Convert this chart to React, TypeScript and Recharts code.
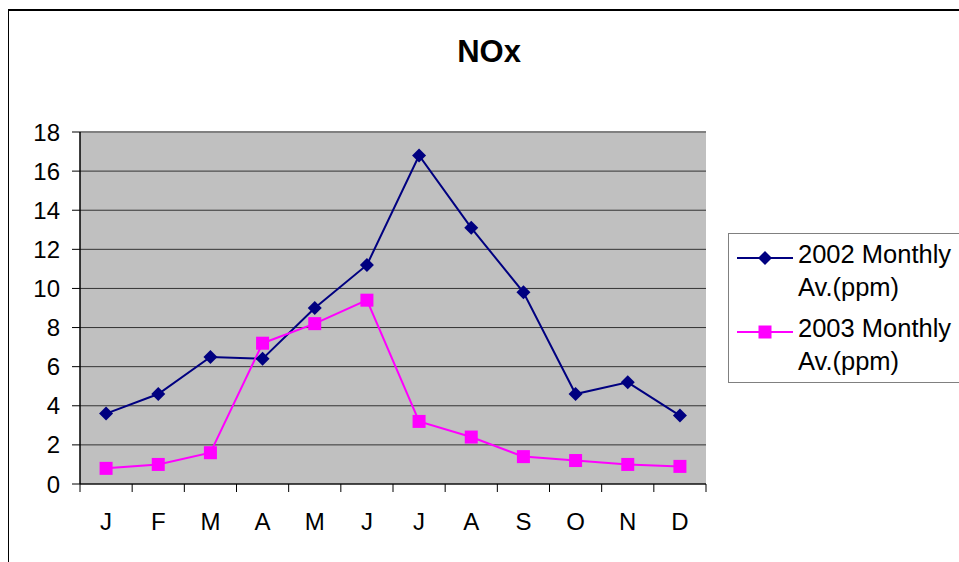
import { LineChart, Line, XAxis, YAxis, CartesianGrid, ReferenceLine, Legend } from 'recharts';

const months = ['J', 'F', 'M', 'A', 'M', 'J', 'J', 'A', 'S', 'O', 'N', 'D'];
const avg2002 = [3.6, 4.6, 6.5, 6.4, 9.0, 11.2, 16.8, 13.1, 9.8, 4.6, 5.2, 3.5];
const avg2003 = [0.8, 1.0, 1.6, 7.2, 8.2, 9.4, 3.2, 2.4, 1.4, 1.2, 1.0, 0.9];
const yTicks = [0, 2, 4, 6, 8, 10, 12, 14, 16, 18];

const series = [
  { key: 'y2002', name: '2002 Monthly Av.(ppm)', color: '#000080', shape: 'diamond' },
  { key: 'y2003', name: '2003 Monthly Av.(ppm)', color: '#FF00FF', shape: 'square' },
];

const data = months.map((m, i) => ({ month: m, y2002: avg2002[i], y2003: avg2003[i] }));

const W = 951;
const H = 554;
const PLOT_LEFT = 72;
const PLOT_RIGHT = 698;
const PLOT_TOP = 124;
const PLOT_BOTTOM = 476;
const BAND = (PLOT_RIGHT - PLOT_LEFT) / months.length;
const FONT = '"Liberation Sans", Arial, sans-serif';

const Diamond = ({ cx, cy, fill, size = 7 }: any) => (
  <polygon
    points={`${cx},${cy - size} ${cx + size},${cy} ${cx},${cy + size} ${cx - size},${cy}`}
    fill={fill}
  />
);

const Square = ({ cx, cy, fill, size = 13 }: any) => (
  <rect x={cx - size / 2} y={cy - size / 2} width={size} height={size} fill={fill} />
);

const Marker = ({ shape, ...rest }: any) =>
  shape === 'diamond' ? <Diamond {...rest} /> : <Square {...rest} />;

// category ticks sit between months, labels in the middle
const MonthTick = ({ x, y, payload, index }: any) => {
  const half = BAND / 2;
  return (
    <g>
      <line x1={x - half} x2={x - half} y1={y} y2={y + 8} stroke="#000" />
      {index === months.length - 1 && (
        <line x1={x + half} x2={x + half} y1={y} y2={y + 8} stroke="#000" />
      )}
      <text x={x} y={y + 46} textAnchor="middle" fontSize={24} fill="#000" fontFamily={FONT}>
        {payload.value}
      </text>
    </g>
  );
};

const LegendBox = () => (
  <div
    style={{
      border: '1px solid #808080',
      background: '#fff',
      width: 260,
      padding: '3.5px 0 4px 0',
      fontFamily: FONT,
      fontSize: 25.5,
      lineHeight: '33px',
      color: '#000',
    }}
  >
    {series.map((s, i) => (
      <div key={s.key} style={{ display: 'flex', marginTop: i === 0 ? 0 : 8.5 }}>
        <svg width={56} height={33} style={{ marginLeft: 8, flex: 'none' }}>
          <line x1={0} x2={56} y1={20} y2={20} stroke={s.color} strokeWidth={2} />
          <Marker shape={s.shape} cx={28} cy={20} fill={s.color} />
        </svg>
        <div style={{ marginLeft: 5 }}>
          {s.name.slice(0, 12)}
          <br />
          {s.name.slice(13)}
        </div>
      </div>
    ))}
  </div>
);

export default function App() {
  return (
    <div
      style={{
        position: 'fixed',
        left: 8,
        top: 8,
        width: W,
        height: H,
        overflow: 'hidden',
        background: '#fff',
        fontFamily: FONT,
      }}
    >
      <div
        style={{
          position: 'absolute',
          left: -1,
          top: 1,
          width: 1200,
          height: 1200,
          border: '2px solid #000',
        }}
      />
      <div
        style={{
          position: 'absolute',
          left: 481,
          top: 28,
          transform: 'translateX(-50%)',
          fontSize: 31,
          fontWeight: 'bold',
          lineHeight: '31px',
        }}
      >
        NOx
      </div>
      <LineChart
        width={W}
        height={H}
        data={data}
        margin={{ top: PLOT_TOP, right: W - PLOT_RIGHT, bottom: 0, left: 0 }}
        style={{ position: 'absolute', left: 0, top: 0 }}
      >
        <CartesianGrid vertical={false} fill="#C0C0C0" stroke="#333" fillOpacity={1} />
        <XAxis
          dataKey="month"
          interval={0}
          padding={{ left: BAND / 2, right: BAND / 2 }}
          tickLine={false}
          tickSize={0}
          tickMargin={0}
          axisLine={{ stroke: '#000' }}
          tick={<MonthTick />}
          height={H - PLOT_BOTTOM}
        />
        <YAxis
          width={PLOT_LEFT}
          domain={[0, 18]}
          ticks={yTicks}
          interval={0}
          tickSize={8}
          tickMargin={12}
          axisLine={{ stroke: '#000', strokeWidth: 1.5 }}
          tickLine={{ stroke: '#000' }}
          tick={{ fontSize: 24, fill: '#000', fontFamily: FONT }}
        />
        <YAxis
          yAxisId="frame"
          orientation="right"
          width={0}
          tick={false}
          tickLine={false}
          axisLine={{ stroke: '#808080', strokeWidth: 2 }}
        />
        <ReferenceLine y={18} stroke="#808080" strokeWidth={2} />
        {series.map((s) => (
          <Line
            key={s.key}
            type="linear"
            dataKey={s.key}
            name={s.name}
            stroke={s.color}
            strokeWidth={2}
            dot={(p: any) => <Marker key={`${s.key}-${p.index}`} shape={s.shape} cx={p.cx} cy={p.cy} fill={s.color} />}
            activeDot={false}
            isAnimationActive={false}
          />
        ))}
        <Legend
          layout="vertical"
          align="center"
          verticalAlign="middle"
          content={() => <LegendBox />}
          wrapperStyle={{ left: 720, top: 225, width: 262 }}
        />
      </LineChart>
    </div>
  );
}
